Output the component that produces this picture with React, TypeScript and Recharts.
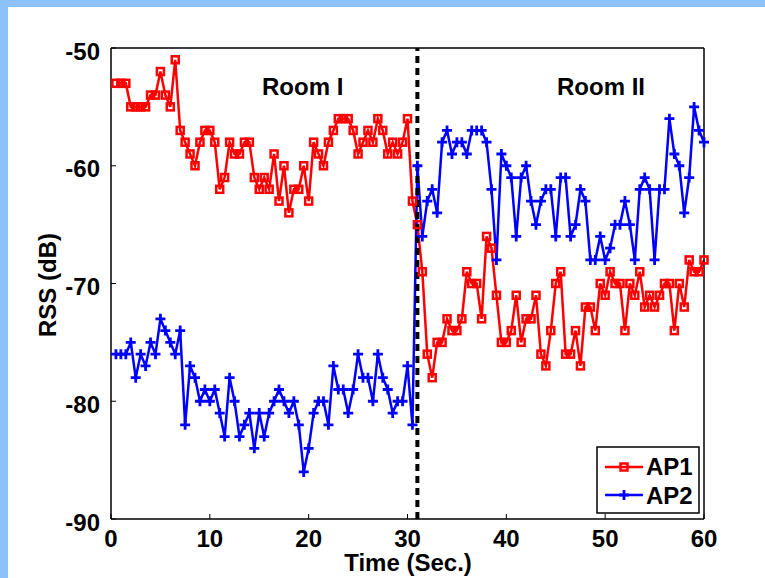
import React from 'react';
import { LineChart, Line, XAxis, YAxis, ReferenceLine, Customized } from 'recharts';

// time axis, seconds (one sample every half second)
const TIMES = [
  0.5, 1, 1.5, 2, 2.5, 3, 3.5, 4, 4.5, 5,
  5.5, 6, 6.5, 7, 7.5, 8, 8.5, 9, 9.5, 10,
  10.5, 11, 11.5, 12, 12.5, 13, 13.5, 14, 14.5, 15,
  15.5, 16, 16.5, 17, 17.5, 18, 18.5, 19, 19.5, 20,
  20.5, 21, 21.5, 22, 22.5, 23, 23.5, 24, 24.5, 25,
  25.5, 26, 26.5, 27, 27.5, 28, 28.5, 29, 29.5, 30,
  30.5, 31, 31.5, 32, 32.5, 33, 33.5, 34, 34.5, 35,
  35.5, 36, 36.5, 37, 37.5, 38, 38.5, 39, 39.5, 40,
  40.5, 41, 41.5, 42, 42.5, 43, 43.5, 44, 44.5, 45,
  45.5, 46, 46.5, 47, 47.5, 48, 48.5, 49, 49.5, 50,
  50.5, 51, 51.5, 52, 52.5, 53, 53.5, 54, 54.5, 55,
  55.5, 56, 56.5, 57, 57.5, 58, 58.5, 59, 59.5, 60,
];

const AP1 = [
  -53, -53, -53, -55, -55, -55, -55, -54, -54, -52,
  -54, -55, -51, -57, -58, -59, -60, -58, -57, -57,
  -58, -62, -61, -58, -59, -59, -58, -58, -61, -62,
  -61, -62, -59, -63, -60, -64, -62, -62, -60, -63,
  -58, -59, -60, -58, -57, -56, -56, -56, -57, -59,
  -58, -57, -58, -56, -57, -59, -58, -59, -58, -56,
  -63, -65, -69, -76, -78, -75, -75, -73, -74, -74,
  -73, -69, -70, -70, -73, -66, -67, -71, -75, -75,
  -74, -71, -75, -73, -73, -71, -76, -77, -74, -70,
  -69, -76, -76, -74, -77, -72, -72, -74, -70, -71,
  -69, -70, -70, -74, -70, -71, -69, -72, -71, -72,
  -71, -70, -70, -74, -70, -72, -68, -69, -69, -68,
];

const AP2 = [
  -76, -76, -76, -75, -78, -76, -77, -75, -76, -73,
  -74, -75, -76, -74, -82, -77, -78, -80, -79, -80,
  -79, -81, -83, -78, -80, -83, -82, -81, -84, -81,
  -83, -81, -80, -79, -80, -81, -80, -82, -86, -84,
  -81, -80, -80, -82, -77, -79, -79, -81, -79, -76,
  -78, -78, -80, -76, -78, -79, -81, -80, -80, -77,
  -82, -60, -66, -63, -62, -64, -58, -57, -59, -58,
  -58, -59, -57, -57, -57, -58, -62, -68, -59, -60,
  -61, -66, -61, -60, -63, -65, -63, -62, -62, -66,
  -61, -61, -66, -65, -62, -63, -68, -68, -66, -68,
  -67, -65, -65, -63, -65, -68, -62, -61, -62, -68,
  -62, -62, -56, -59, -60, -64, -61, -55, -57, -58,
];

const X_TICKS = [0, 10, 20, 30, 40, 50, 60];
const Y_TICKS = [-90, -80, -70, -60, -50];
const ROOM_SPLIT = 31;

const data = TIMES.map((t, i) => ({ t, ap1: AP1[i], ap2: AP2[i] }));

const FONT = '"Liberation Sans", Arial, Helvetica, sans-serif';
const RED = '#ff0000';
const BLUE = '#0000ff';
const FRAME = '#8dc2f8';

const tickStyle = { fontSize: 24, fontWeight: 'bold', fill: '#000', fontFamily: FONT };

const SquareDot = (props: any) => {
  const { cx, cy, index } = props;
  if (cx == null || cy == null) return <g key={`s-${index}`} />;
  return (
    <rect key={`s-${index}`} x={cx - 3.5} y={cy - 3.5} width={7} height={7}
      fill="none" stroke={RED} strokeWidth={2.5} />
  );
};

const PlusDot = (props: any) => {
  const { cx, cy, index } = props;
  if (cx == null || cy == null) return <g key={`p-${index}`} />;
  return (
    <path key={`p-${index}`} d={`M${cx - 5},${cy}H${cx + 5}M${cx},${cy - 5}V${cy + 5}`}
      stroke={BLUE} strokeWidth={2.8} fill="none" />
  );
};

// texts + legend box, drawn in pixel space like the original figure
const Annotations = () => (
  <g fontFamily={FONT} fill="#000" fontWeight="bold">
    <text x={262} y={95} fontSize={24}>Room I</text>
    <text x={557} y={95} fontSize={24}>Room II</text>
    <text x={408} y={571} fontSize={24} textAnchor="middle">Time (Sec.)</text>
    <text x={56} y={285} fontSize={24} textAnchor="middle" transform="rotate(-90 56 285)">RSS (dB)</text>
    <rect x={597} y={447} width={102} height={66} fill="#fff" stroke="#000" strokeWidth={1.5} />
    <line x1={605} x2={643} y1={467} y2={467} stroke={RED} strokeWidth={2.5} />
    <rect x={620.5} y={463.5} width={7} height={7} fill="none" stroke={RED} strokeWidth={2.5} />
    <text x={646} y={475} fontSize={24}>AP1</text>
    <line x1={605} x2={643} y1={495} y2={495} stroke={BLUE} strokeWidth={2.5} />
    <path d="M619,495H629M624,490V500" stroke={BLUE} strokeWidth={2.8} />
    <text x={646} y={504} fontSize={24}>AP2</text>
  </g>
);

export default function App() {
  return (
    <div style={{ position: 'fixed', left: 0, top: 0, width: 765, height: 578, background: '#fff', overflow: 'hidden' }}>
      <div style={{ position: 'absolute', left: 0, top: 0, width: 765, height: 7, background: FRAME }} />
      <div style={{ position: 'absolute', left: 0, top: 0, width: 8, height: 578, background: FRAME }} />
      <div style={{ position: 'absolute', left: 0, top: 0 }}>
        <LineChart width={765} height={578} data={data} margin={{ top: 48, right: 61, left: 0, bottom: 0 }}>
          <XAxis dataKey="t" type="number" domain={[0, 60]} ticks={X_TICKS} height={59}
            tick={tickStyle} tickSize={-5} tickMargin={16}
            axisLine={{ stroke: '#000', strokeWidth: 1.5 }} tickLine={{ stroke: '#000', strokeWidth: 1 }} />
          <XAxis xAxisId="top" orientation="top" type="number" domain={[0, 60]} ticks={X_TICKS} mirror
            tick={false} tickSize={5}
            axisLine={{ stroke: '#000', strokeWidth: 1.5 }} tickLine={{ stroke: '#000', strokeWidth: 1 }} />
          <YAxis type="number" domain={[-90, -50]} ticks={Y_TICKS} width={111}
            tick={{ ...tickStyle, dy: 3 }} tickSize={-5} tickMargin={16}
            axisLine={{ stroke: '#000', strokeWidth: 1.5 }} tickLine={{ stroke: '#000', strokeWidth: 1 }} />
          <YAxis yAxisId="right" orientation="right" type="number" domain={[-90, -50]} ticks={Y_TICKS} mirror
            tick={false} tickSize={5}
            axisLine={{ stroke: '#000', strokeWidth: 1.5 }} tickLine={{ stroke: '#000', strokeWidth: 1 }} />
          <Line dataKey="ap1" name="AP1" stroke={RED} strokeWidth={2.5} dot={SquareDot}
            isAnimationActive={false} />
          <Line dataKey="ap2" name="AP2" stroke={BLUE} strokeWidth={2.5} dot={PlusDot}
            isAnimationActive={false} />
          <ReferenceLine x={ROOM_SPLIT} stroke="#000" strokeWidth={4} strokeDasharray="7 5" />
          <Customized component={Annotations} />
        </LineChart>
      </div>
    </div>
  );
}
